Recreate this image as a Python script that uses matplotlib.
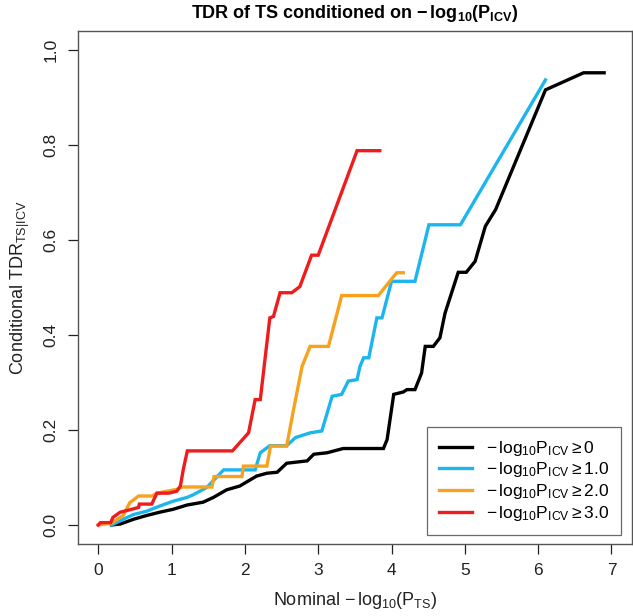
import matplotlib
matplotlib.use("Agg")
import matplotlib.pyplot as plt

plt.rcParams["font.family"] = ["Liberation Sans", "DejaVu Sans"]
plt.rcParams["mathtext.fontset"] = "custom"
plt.rcParams["mathtext.rm"] = "Liberation Sans"
plt.rcParams["mathtext.it"] = "Liberation Sans:italic"
plt.rcParams["mathtext.bf"] = "Liberation Sans:bold"

# Conditional TDR curves
x_all = [0.18, 0.30, 0.48, 0.66, 0.84, 1.02, 1.21, 1.43, 1.57, 1.75, 1.93, 2.16,
         2.30, 2.44, 2.57, 2.85, 2.94, 3.12, 3.34, 3.89, 3.94, 4.03, 4.16, 4.21,
         4.32, 4.41, 4.46, 4.57, 4.66, 4.73, 4.91, 5.02, 5.14, 5.28, 5.42, 6.10,
         6.62, 6.90]
y_all = [0.000, 0.002, 0.012, 0.020, 0.027, 0.033, 0.042, 0.048, 0.058, 0.074,
         0.082, 0.103, 0.109, 0.111, 0.130, 0.135, 0.149, 0.152, 0.161, 0.161,
         0.180, 0.275, 0.280, 0.285, 0.285, 0.320, 0.376, 0.376, 0.394, 0.446,
         0.532, 0.532, 0.555, 0.629, 0.664, 0.916, 0.952, 0.952]

x_ge1 = [0.18, 0.34, 0.48, 0.66, 0.84, 1.02, 1.21, 1.30, 1.48, 1.71, 2.14, 2.21,
         2.34, 2.57, 2.69, 2.89, 3.05, 3.19, 3.32, 3.41, 3.53, 3.57, 3.62, 3.69,
         3.80, 3.87, 4.00, 4.32, 4.51, 4.94, 6.10]
y_ge1 = [0.000, 0.012, 0.022, 0.029, 0.040, 0.050, 0.058, 0.064, 0.079, 0.116,
         0.116, 0.152, 0.167, 0.167, 0.184, 0.194, 0.198, 0.271, 0.275, 0.303,
         0.306, 0.334, 0.352, 0.352, 0.436, 0.436, 0.513, 0.513, 0.632, 0.632,
         0.937]

x_ge2 = [0.00, 0.18, 0.34, 0.43, 0.55, 0.73, 0.80, 1.07, 1.14, 1.55, 1.58, 1.96,
         1.98, 2.30, 2.35, 2.57, 2.66, 2.78, 2.89, 3.14, 3.32, 3.82, 4.07, 4.16]
y_ge2 = [0.000, 0.004, 0.020, 0.047, 0.061, 0.061, 0.067, 0.075, 0.080, 0.080,
         0.102, 0.102, 0.124, 0.124, 0.166, 0.166, 0.240, 0.334, 0.376, 0.376,
         0.483, 0.483, 0.531, 0.531]

x_ge3 = [0.00, 0.03, 0.17, 0.20, 0.30, 0.43, 0.55, 0.56, 0.73, 0.76, 0.80, 0.96,
         1.07, 1.12, 1.16, 1.215, 1.83, 2.05, 2.14, 2.21, 2.34, 2.39, 2.48, 2.64,
         2.75, 2.91, 3.00, 3.53, 3.84]
y_ge3 = [0.000, 0.005, 0.005, 0.016, 0.027, 0.032, 0.037, 0.044, 0.044, 0.054,
         0.067, 0.067, 0.071, 0.082, 0.117, 0.156, 0.156, 0.194, 0.264, 0.264,
         0.436, 0.439, 0.489, 0.489, 0.502, 0.568, 0.568, 0.788, 0.788]

labels = [r"$-\,\mathrm{log}_{10}\mathrm{P}_{\mathrm{ICV}}\geq 0$",
          r"$-\,\mathrm{log}_{10}\mathrm{P}_{\mathrm{ICV}}\geq 1.0$",
          r"$-\,\mathrm{log}_{10}\mathrm{P}_{\mathrm{ICV}}\geq 2.0$",
          r"$-\,\mathrm{log}_{10}\mathrm{P}_{\mathrm{ICV}}\geq 3.0$"]
colours = ["black", "#1DB5EE", "#F6A21E", "#EE1C1C"]

fig = plt.figure(figsize=(6.33, 6.16), dpi=100)
ax = fig.add_axes([0.1228, 0.1169, 0.8756, 0.8328])

series = [(x_all, y_all), (x_ge1, y_ge1), (x_ge2, y_ge2), (x_ge3, y_ge3)]
for (xs, ys), colour, label in zip(series, colours, labels):
    ax.plot(xs, ys, color=colour, lw=2.4, label=label, solid_joinstyle="miter")

ax.set_xlim(-0.28, 7.28)
ax.set_ylim(-0.04, 1.04)
ax.set_xticks(range(8))
ax.set_yticks([0.0, 0.2, 0.4, 0.6, 0.8, 1.0])
ax.set_yticklabels(["0.0", "0.2", "0.4", "0.6", "0.8", "1.0"], rotation=90,
                   va="center")
ax.tick_params(direction="out", length=7, width=0.9, labelsize=12.5, pad=7,
               colors="#222222")

for spine in ax.spines.values():
    spine.set_color("#555555")
    spine.set_linewidth(1.0)

ax.set_xlabel(r"Nominal $-\,\mathrm{log}_{10}(\mathrm{P}_{\mathrm{TS}})$",
              fontsize=13, color="#222222", labelpad=8)
ax.set_ylabel(r"Conditional TDR$_{\mathrm{TS|ICV}}$", fontsize=13,
              color="#222222", labelpad=8)
ax.set_title(r"TDR of TS conditioned on $\mathbf{-\,log_{10}(P_{ICV})}$",
             fontsize=13, fontweight="bold", pad=9)

leg = ax.legend(loc="lower right", fontsize=12.5, frameon=True, fancybox=False,
                edgecolor="#444444", handlelength=1.9, handletextpad=0.8,
                borderpad=0.7, labelspacing=0.15, borderaxespad=0,
                bbox_to_anchor=(0.98, 0.018))
leg.get_frame().set_linewidth(0.9)

fig.savefig("out.png", dpi=100)
